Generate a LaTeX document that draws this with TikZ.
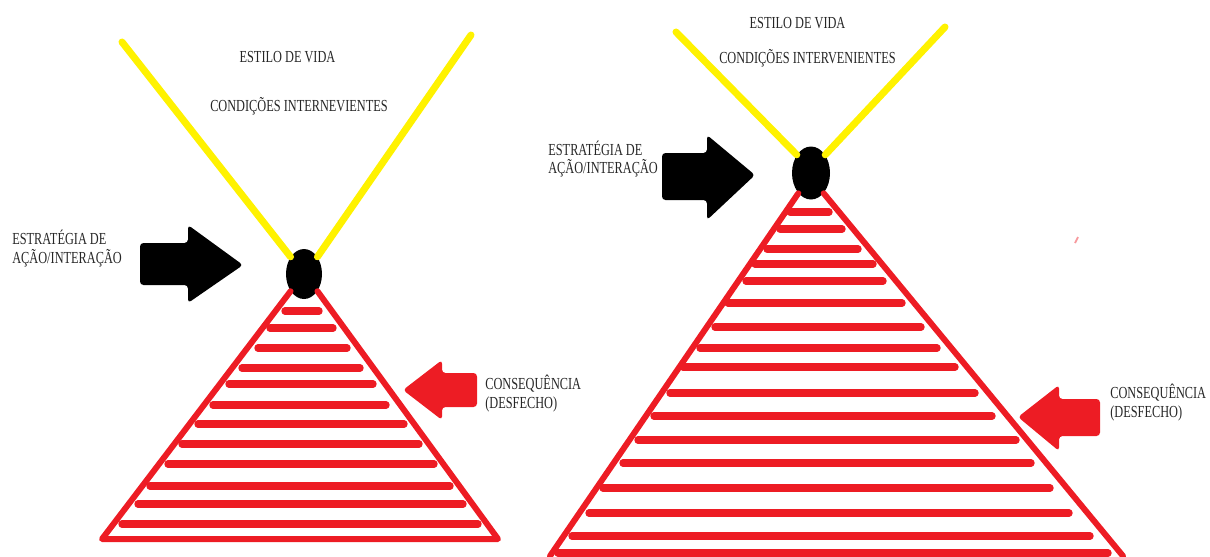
\documentclass[tikz,border=0pt]{standalone}
\usepackage{fontspec}
\setmainfont{Liberation Serif}[FakeStretch=0.73]
\usetikzlibrary{shapes.geometric}
\definecolor{paintred}{HTML}{ED1C24}
\definecolor{paintyel}{HTML}{FFF200}

\begin{document}
\begin{tikzpicture}[
      x=0.02cm, y=-0.02cm,
      lbl/.style={font=\fontsize{9.6}{10.5}\selectfont,align=left,inner sep=0pt,text=black!85},
      ray/.style={paintyel,line width=4pt,line cap=round},
      side/.style={paintred,line width=3.4pt,line cap=round,line join=round},
      stripe/.style={paintred,line width=4.2pt,line cap=round},
      nucleus/.style={ellipse,fill=black,inner sep=0pt},
      blk/.style={fill=black,rounded corners=2pt},
      redarr/.style={fill=paintred,rounded corners=2pt},
    ]
    \useasboundingbox (0,0) rectangle (1210,556);

    % left figure
    \node[nucleus,minimum width=0.72cm,minimum height=1cm] (nucL) at (304,274) {};
    \coordinate (rayLa) at (122,42);
    \coordinate (rayLb) at (471,35);
    \draw[ray] (rayLa) -- (nucL.128);
    \draw[ray] (rayLb) -- (nucL.52);
    \foreach \y/\a/\b in {311/285/319,328/270/333,348/258/347,368/242/360,384/229/373,
                          405/213/386,424/198/404,444/182/419,464/168/434,486/150/450,
                          504/138/463,524/122/478}
      \draw[stripe] (\a,\y) -- (\b,\y);
    \draw[side] (nucL.-128) -- (102,539) -- (498,539) -- (nucL.-52);
    \fill[blk] (140,243) -- (188,243) -- (188,225) -- (243,265) -- (188,303) -- (188,285) -- (140,285) -- cycle;
    \fill[redarr] (477,373) -- (442,373) -- (442,360) -- (403,390) -- (442,420) -- (442,407) -- (477,407) -- cycle;

    \node[lbl,anchor=west] (stratL) at (12,248.5) {ESTRATÉGIA DE\\AÇÃO/INTERAÇÃO};
    \node[lbl] (estiloL) at (287.5,57) {ESTILO DE VIDA};
    \node[lbl] (condL) at (299,106) {CONDIÇÕES INTERNEVIENTES};
    \node[lbl,anchor=west] (consL) at (485,393.5) {CONSEQUÊNCIA\\(DESFECHO)};

    % right figure
    \node[nucleus,minimum width=0.76cm,minimum height=1.06cm] (nucR) at (811,173) {};
    \coordinate (rayRa) at (676,32);
    \coordinate (rayRb) at (945,27);
    \draw[ray] (rayRa) -- (nucR.128);
    \draw[ray] (rayRb) -- (nucR.52);
    \foreach \y/\a/\b in {212/790/829,229/780/842,249/767/858,264/755/873,281/746/883,
                          303/728/902,327/715/921,348/700/937,367/683/955,393/670/975,
                          416/654/992,440/638/1016,463/623/1031,488/603/1050,513/589/1069,
                          536/572/1090,553/558/1108}
      \draw[stripe] (\a,\y) -- (\b,\y);
    \draw[side] (nucR.-122) -- (550,556);
    \draw[side] (nucR.-58) -- (1123,556);
    \fill[blk] (662,153) -- (707,153) -- (707,135) -- (755,175) -- (707,220) -- (707,200) -- (662,200) -- cycle;
    \fill[redarr] (1100,399) -- (1059,399) -- (1059,385) -- (1018,417) -- (1059,451) -- (1059,436) -- (1100,436) -- cycle;
    \draw[paintred!45,line width=1pt] (1075,243) -- (1078,237);

    \node[lbl,anchor=west] (stratR) at (548,159) {ESTRATÉGIA DE\\AÇÃO/INTERAÇÃO};
    \node[lbl] (estiloR) at (797.5,23) {ESTILO DE VIDA};
    \node[lbl] (condR) at (807.5,58) {CONDIÇÕES INTERVENIENTES};
    \node[lbl,anchor=west] (consR) at (1110,402.5) {CONSEQUÊNCIA\\(DESFECHO)};
  \end{tikzpicture}
\end{document}
